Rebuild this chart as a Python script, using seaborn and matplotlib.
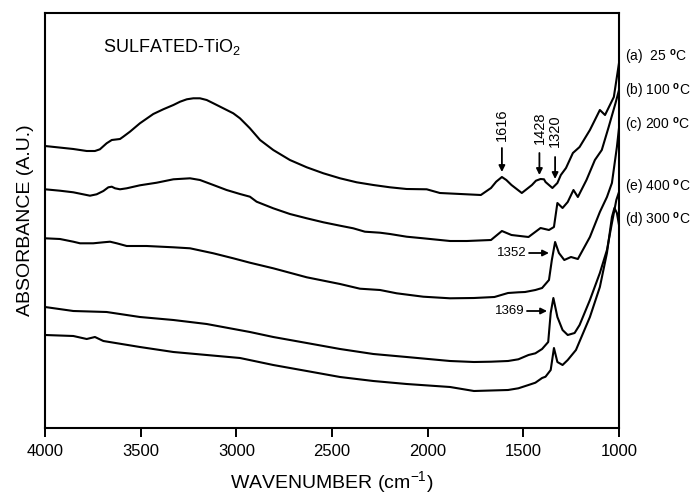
import numpy as np
import pandas as pd
import matplotlib
matplotlib.use("Agg")
import matplotlib.pyplot as plt
import seaborn as sns

# ---------------- data ----------------
wn_a = [4000, 3852, 3782, 3739, 3713, 3678, 3651, 3608, 3591, 3556, 3504, 3434, 3382, 3329, 3294, 3259,
        3225, 3190, 3155, 3120, 3068, 3016, 2981, 2946, 2929, 2876, 2807, 2720, 2632, 2545, 2458, 2371,
        2284, 2197, 2110, 2005, 1936, 1829, 1722, 1669, 1642, 1612, 1589, 1562, 1508, 1455, 1434, 1410,
        1392, 1384, 1348, 1322, 1304, 1277, 1241, 1206, 1152, 1100, 1073, 1027, 1000]
ab_a = [282, 279, 277, 277, 278.7, 284.7, 288, 289, 291.3, 296.3, 304.7, 314, 318.7, 323, 326.3, 328.7,
        329.7, 329.7, 328, 324.7, 319.7, 314.7, 309.7, 303, 299.7, 288, 278, 268, 260.7, 254.7, 249.7, 245.7,
        243, 240.7, 239, 238.7, 235, 234, 233, 240, 246.3, 251, 248, 243, 235, 243, 247.3, 249,
        248.7, 246, 240, 245, 253, 260, 275, 281, 298, 318, 313, 331, 365]

wn_b = [4000, 3922, 3852, 3765, 3730, 3695, 3669, 3651, 3634, 3608, 3573, 3504, 3416, 3329, 3242, 3190,
        3120, 3051, 2981, 2929, 2894, 2807, 2720, 2632, 2545, 2458, 2389, 2328, 2249, 2197, 2110, 2023,
        1883, 1795, 1669, 1612, 1562, 1473, 1410, 1366, 1340, 1322, 1295, 1268, 1238, 1215, 1170, 1126,
        1090, 1054, 1018, 1000]
ab_b = [238.7, 237.3, 235.7, 232.3, 233.7, 237, 240.7, 241.3, 239.7, 238.7, 239.7, 242.7, 245.3, 248.7, 249.7, 248,
        243, 238, 234, 231.3, 226.3, 219.7, 214, 209.7, 205.7, 202.3, 199.7, 196.3, 195.3, 194, 191.3, 189.7,
        187, 187, 188, 197, 193, 191, 200, 198, 201, 225, 220, 226, 238, 231, 248, 268,
        278, 301, 325, 338]

wn_c = [4000, 3922, 3852, 3817, 3748, 3695, 3660, 3625, 3573, 3469, 3329, 3242, 3120, 3016, 2929, 2807,
        2632, 2458, 2354, 2249, 2162, 2023, 1883, 1758, 1651, 1580, 1526, 1491, 1437, 1402, 1366, 1351,
        1334, 1314, 1286, 1251, 1215, 1152, 1100, 1063, 1037, 1011, 1000]
ab_c = [189.7, 189, 186.3, 184.7, 184.7, 185.7, 186.3, 184.7, 182, 182, 180.7, 179.7, 174.7, 169.7, 165.3, 159.7,
        150.7, 144, 139.3, 138, 134.7, 131.3, 129.7, 130, 131, 135, 135.7, 136, 138, 140, 148, 168,
        186, 175, 168, 171, 169, 191, 216, 231, 245, 281, 300]

wn_e = [4000, 3852, 3678, 3504, 3329, 3155, 2929, 2807, 2632, 2458, 2284, 2110, 1883, 1758, 1669, 1580,
        1526, 1473, 1437, 1402, 1370, 1357, 1343, 1322, 1295, 1268, 1232, 1206, 1152, 1100, 1063, 1037,
        1014, 1000]
ab_e = [121, 117, 116, 111, 108, 104, 96, 91, 85, 79, 74, 71, 67, 66, 66.3, 67,
        68.7, 73, 74.7, 79, 86, 115, 130, 111, 98, 93, 95, 103, 128, 155, 178, 205,
        228, 236]

wn_d = [4000, 3852, 3782, 3739, 3695, 3504, 3329, 3155, 2981, 2807, 2632, 2458, 2284, 2110, 1883, 1758,
        1580, 1526, 1473, 1437, 1402, 1384, 1357, 1340, 1322, 1295, 1268, 1225, 1152, 1100, 1063, 1037,
        1024, 1011, 1000]
ab_d = [93, 92, 89, 91, 87, 81, 76, 73, 70, 63, 57, 51, 47, 44, 41, 37,
        38, 39.7, 43, 45.3, 50, 51.3, 58, 80, 66, 63, 68, 78, 111, 141, 175, 211,
        220, 215, 203]

samples = ["(a)  25", "(b) 100", "(c) 200", "(e) 400", "(d) 300"]
label_y = [371, 337, 303, 241, 208]

x_ticks = [4000, 3500, 3000, 2500, 2000, 1500, 1000]

peak_labels_v = ["1616", "1428", "1320"]
peak_v_x = [1612, 1416, 1334]
peak_v_text_y = [303, 300, 297]
peak_v_tail_y = [280, 275, 271]
peak_v_tip_y = [256, 253, 249]

peak_labels_h = ["1352", "1369"]
peak_h_text_x = [1481, 1491]
peak_h_tail_x = [1470, 1481]
peak_h_tip_x = [1366, 1376]
peak_h_y = [175, 117]

# ---------------- figure ----------------
sns.set_theme(style="white")
plt.rcParams["font.family"] = ["Liberation Sans", "DejaVu Sans"]
plt.rcParams["mathtext.fontset"] = "custom"
plt.rcParams["mathtext.rm"] = "Liberation Sans"
plt.rcParams["mathtext.it"] = "Liberation Sans:italic"
plt.rcParams["mathtext.bf"] = "Liberation Sans:bold"

frames = []
for name, w, a in zip(samples, [wn_a, wn_b, wn_c, wn_e, wn_d], [ab_a, ab_b, ab_c, ab_e, ab_d]):
    frames.append(pd.DataFrame({"wavenumber": w, "absorbance": a, "sample": name}))
df = pd.concat(frames, ignore_index=True)

fig = plt.figure(figsize=(6.92, 4.94), dpi=100)
ax = fig.add_axes([45 / 692, 66 / 494, 574 / 692, 415 / 494])

sns.lineplot(data=df, x="wavenumber", y="absorbance", hue="sample", units="sample",
             estimator=None, palette={s: "black" for s in samples}, legend=False,
             linewidth=1.5, solid_joinstyle="round", solid_capstyle="round", ax=ax)

ax.set_xlim(4000, 1000)
ax.set_ylim(0, 415)
ax.set_xticks(x_ticks)
ax.set_xticklabels([str(t) for t in x_ticks])
ax.set_yticks([])
ax.tick_params(axis="x", bottom=True, direction="out", length=6.5, width=1.4,
               pad=5, labelsize=12, colors="black")
for sp in ax.spines.values():
    sp.set_linewidth(1.5)
    sp.set_color("black")

ax.set_xlabel("WAVENUMBER (cm$^{-1}$)", fontsize=14, labelpad=7, color="black")
ax.set_ylabel("ABSORBANCE (A.U.)", fontsize=14, labelpad=8, color="black")

ax.text(0.101, 0.907, "SULFATED-TiO$_2$", transform=ax.transAxes, fontsize=13,
        ha="left", va="baseline", color="black")

# right-hand labels
trans = matplotlib.transforms.blended_transform_factory(ax.transAxes, ax.transData)
for s, y in zip(samples, label_y):
    ax.text(1.0105, y, s + r" $^{\mathbf{o}}$C", transform=trans, fontsize=10,
            ha="left", va="center", color="black", clip_on=False)

# vertical peak annotations
for lab, x, ty, tail, tip in zip(peak_labels_v, peak_v_x, peak_v_text_y, peak_v_tail_y, peak_v_tip_y):
    ax.text(x, ty, lab, rotation=90, fontsize=10.5, ha="center", va="center", color="black")
    ax.annotate("", xy=(x, tip), xytext=(x, tail),
                arrowprops=dict(arrowstyle="-|>", color="black", lw=1.3,
                                mutation_scale=9, shrinkA=0, shrinkB=0))

# horizontal peak annotations
for lab, tx, tail, tip, y in zip(peak_labels_h, peak_h_text_x, peak_h_tail_x, peak_h_tip_x, peak_h_y):
    ax.text(tx, y, lab, fontsize=9.5, ha="right", va="center", color="black")
    ax.annotate("", xy=(tip, y), xytext=(tail, y),
                arrowprops=dict(arrowstyle="-|>", color="black", lw=1.3,
                                mutation_scale=9, shrinkA=0, shrinkB=0))

fig.savefig("out.png", dpi=100, facecolor="white")
